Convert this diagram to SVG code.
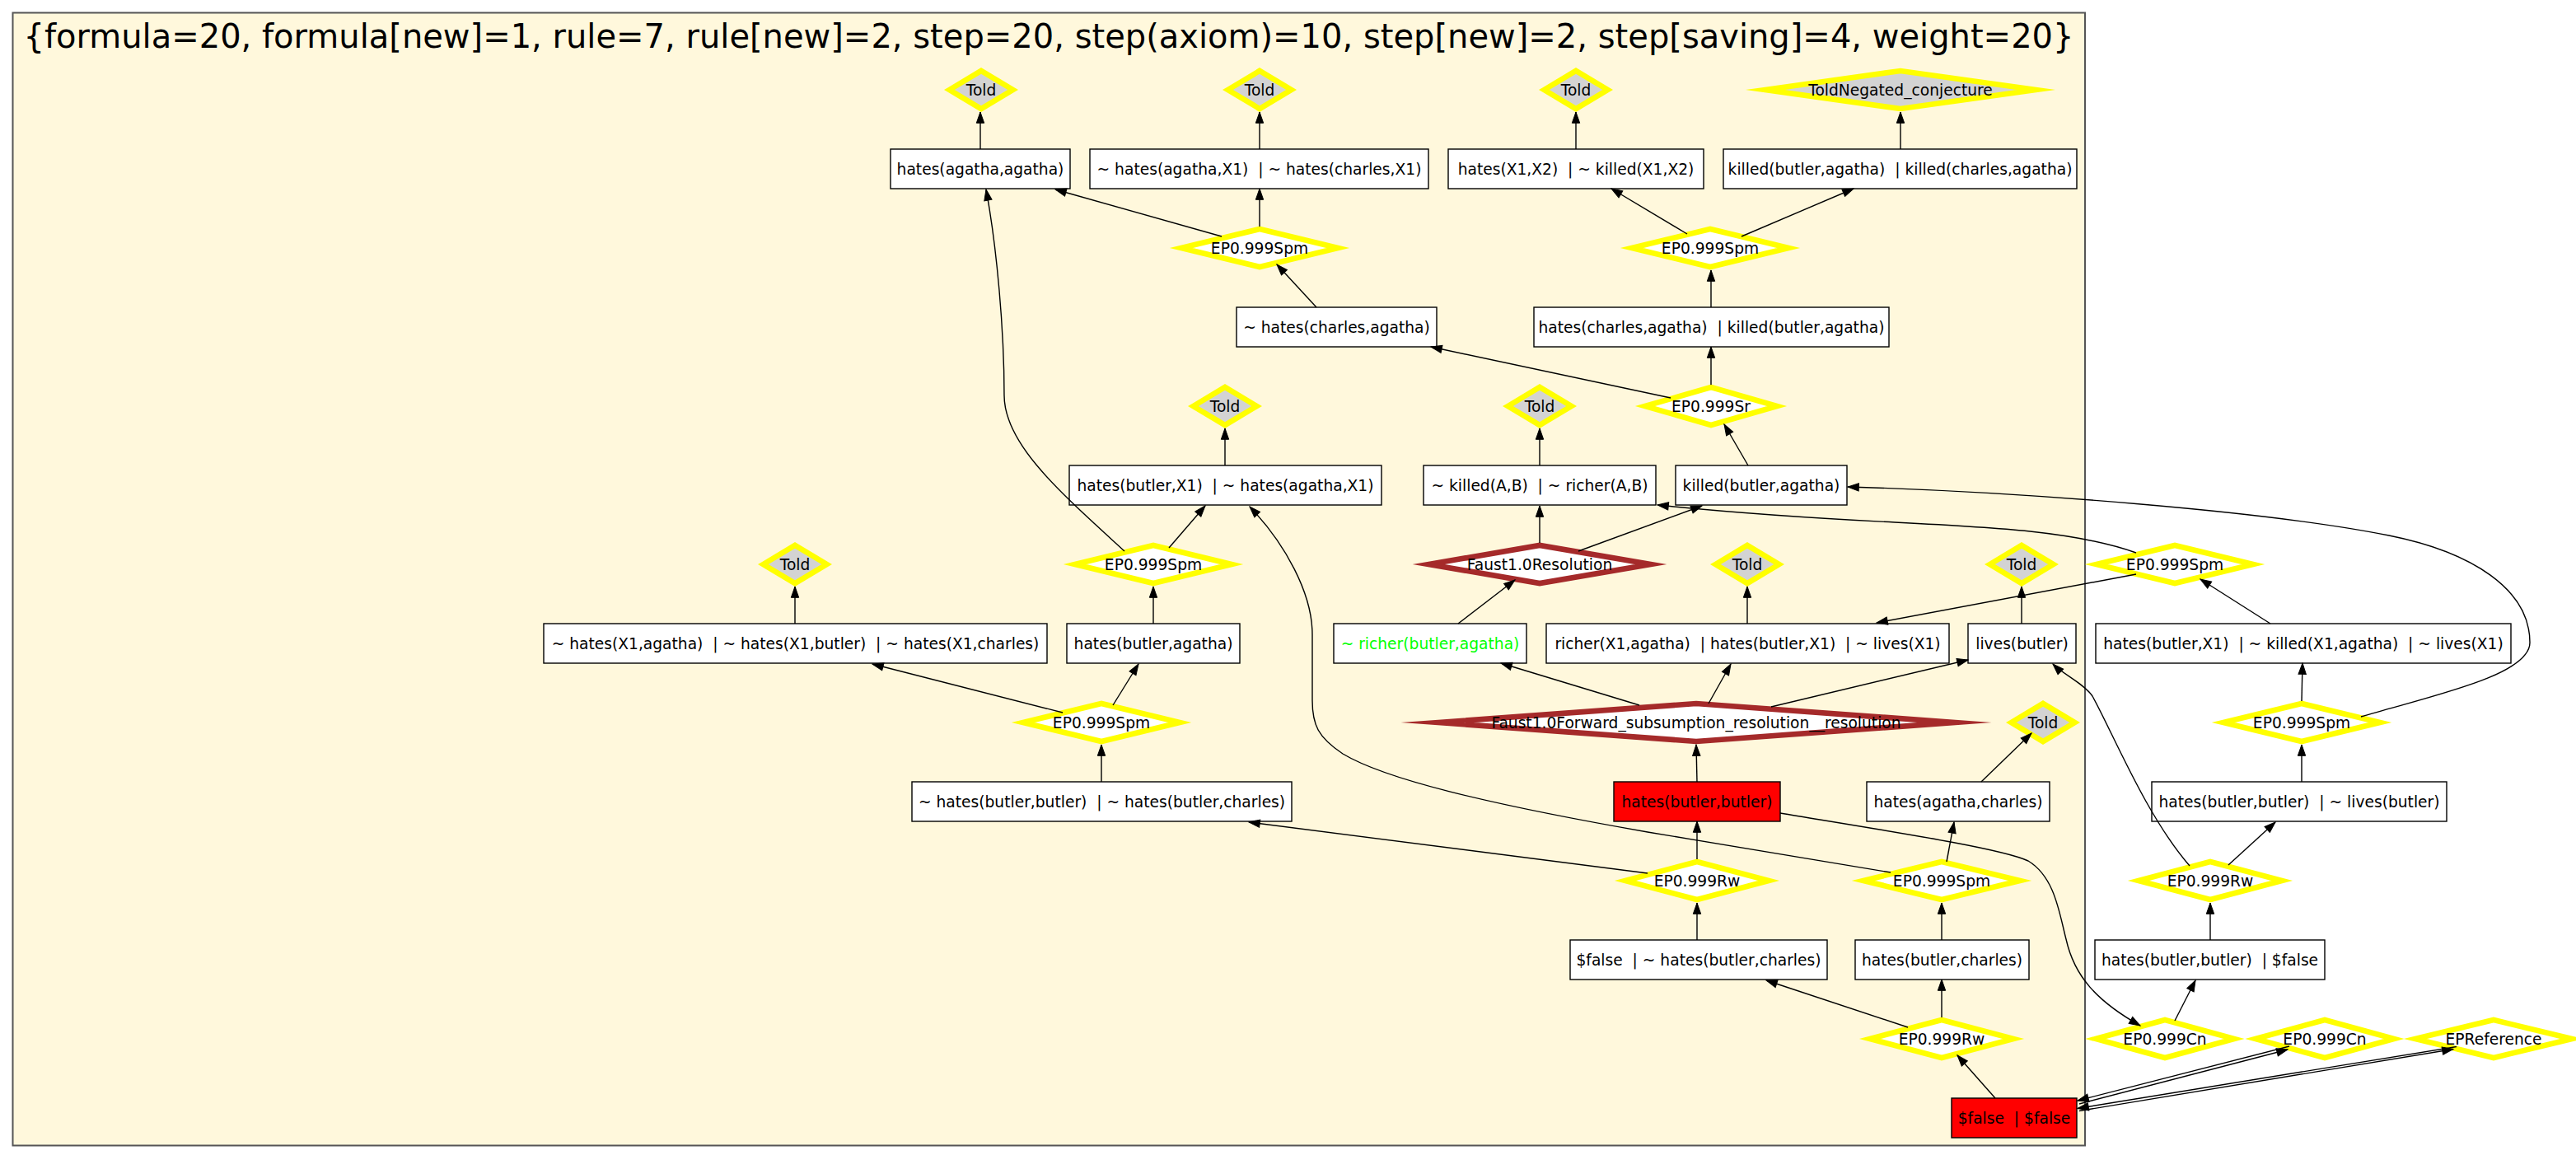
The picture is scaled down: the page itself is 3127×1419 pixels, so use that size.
<svg xmlns="http://www.w3.org/2000/svg" width="3127" height="1419" viewBox="0 0 3127 1419">
<style>
.bg{fill:#fff}
.cl{fill:#fff8dc;stroke:#555;stroke-width:2}
.box{fill:#fff;stroke:#000;stroke-width:1.4}
.red{fill:#f00;stroke:#000;stroke-width:1.4}
.ep{fill:#fff;stroke:#ff0;stroke-width:6.67;stroke-miterlimit:20}
.told{fill:#d3d3d3;stroke:#ff0;stroke-width:6.67;stroke-miterlimit:20}
.fa{fill:#fff;stroke:#a52a2a;stroke-width:6.67;stroke-miterlimit:20}
text{font-family:"DejaVu Sans",sans-serif;font-size:18.67px;text-anchor:middle;fill:#000;white-space:pre}
.title{font-size:40px}
.green{fill:#0f0}
.e{fill:none;stroke:#000;stroke-width:1.4;marker-end:url(#ah)}
</style>
<defs>
<marker id="ah" markerUnits="userSpaceOnUse" markerWidth="16" markerHeight="12" refX="13.3" refY="4.67" orient="auto" overflow="visible"><path d="M0,0 L13.3,4.67 L0,9.33 Z" fill="#000" stroke="#000" stroke-width="1"/></marker>
</defs>
<rect class="bg" x="0" y="0" width="3127" height="1419"/>
<g id="cluster">
<rect class="cl" x="15.5" y="15.5" width="2515.5" height="1375"/>
<text class="title" x="1273" y="58">{formula=20, formula[new]=1, rule=7, rule[new]=2, step=20, step(axiom)=10, step[new]=2, step[saving]=4, weight=20}</text>
</g>
<g id="nodes">
<g id="told_a"><polygon class="told" points="1152.5,109 1191,86 1229.5,109 1191,132"/><text x="1191" y="115.5">Told</text></g>
<g id="told_b"><polygon class="told" points="1490.5,109 1529,86 1567.5,109 1529,132"/><text x="1529" y="115.5">Told</text></g>
<g id="told_c"><polygon class="told" points="1874.5,109 1913,86 1951.5,109 1913,132"/><text x="1913" y="115.5">Told</text></g>
<g id="told_neg"><polygon class="told" points="2143,109 2307,86 2471,109 2307,132"/><text x="2307" y="115.5">ToldNegated_conjecture</text></g>
<g id="b_aa"><rect class="box" x="1081" y="181" width="218" height="48"/><text x="1190" y="211.5">hates(agatha,agatha)</text></g>
<g id="b_ax"><rect class="box" x="1323" y="181" width="411" height="48"/><text x="1528.5" y="211.5">~ hates(agatha,X1)  | ~ hates(charles,X1)</text></g>
<g id="b_x12"><rect class="box" x="1758" y="181" width="310" height="48"/><text x="1913" y="211.5">hates(X1,X2)  | ~ killed(X1,X2)</text></g>
<g id="b_kk"><rect class="box" x="2092" y="181" width="429" height="48"/><text x="2306.5" y="211.5">killed(butler,agatha)  | killed(charles,agatha)</text></g>
<g id="ep_s1"><polygon class="ep" points="1434,301 1529,278 1624,301 1529,324"/><text x="1529" y="307.5">EP0.999Spm</text></g>
<g id="ep_s2"><polygon class="ep" points="1981,301 2076,278 2171,301 2076,324"/><text x="2076" y="307.5">EP0.999Spm</text></g>
<g id="b_nca"><rect class="box" x="1501" y="373" width="243" height="48"/><text x="1622.5" y="403.5">~ hates(charles,agatha)</text></g>
<g id="b_hk"><rect class="box" x="1862" y="373" width="431" height="48"/><text x="2077.5" y="403.5">hates(charles,agatha)  | killed(butler,agatha)</text></g>
<g id="told_d"><polygon class="told" points="1448.5,493 1487,470 1525.5,493 1487,516"/><text x="1487" y="499.5">Told</text></g>
<g id="told_e"><polygon class="told" points="1830.5,493 1869,470 1907.5,493 1869,516"/><text x="1869" y="499.5">Told</text></g>
<g id="ep_sr"><polygon class="ep" points="1997,493 2077,470 2157,493 2077,516"/><text x="2077" y="499.5">EP0.999Sr</text></g>
<g id="b_bx"><rect class="box" x="1298" y="565" width="379" height="48"/><text x="1487.5" y="595.5">hates(butler,X1)  | ~ hates(agatha,X1)</text></g>
<g id="b_kr"><rect class="box" x="1728" y="565" width="282" height="48"/><text x="1869" y="595.5">~ killed(A,B)  | ~ richer(A,B)</text></g>
<g id="b_kba"><rect class="box" x="2034" y="565" width="208" height="48"/><text x="2138" y="595.5">killed(butler,agatha)</text></g>
<g id="told_f"><polygon class="told" points="926.5,685 965,662 1003.5,685 965,708"/><text x="965" y="691.5">Told</text></g>
<g id="ep_s3"><polygon class="ep" points="1305,685 1400,662 1495,685 1400,708"/><text x="1400" y="691.5">EP0.999Spm</text></g>
<g id="f_res"><polygon class="fa" points="1734.5,685 1869,662 2003.5,685 1869,708"/><text x="1869" y="691.5">Faust1.0Resolution</text></g>
<g id="told_g"><polygon class="told" points="2082.5,685 2121,662 2159.5,685 2121,708"/><text x="2121" y="691.5">Told</text></g>
<g id="told_h"><polygon class="told" points="2415.5,685 2454,662 2492.5,685 2454,708"/><text x="2454" y="691.5">Told</text></g>
<g id="ep_s4"><polygon class="ep" points="2545,685 2640,662 2735,685 2640,708"/><text x="2640" y="691.5">EP0.999Spm</text></g>
<g id="b_x1"><rect class="box" x="660" y="757" width="611" height="48"/><text x="965.5" y="787.5">~ hates(X1,agatha)  | ~ hates(X1,butler)  | ~ hates(X1,charles)</text></g>
<g id="b_hba"><rect class="box" x="1295" y="757" width="210" height="48"/><text x="1400" y="787.5">hates(butler,agatha)</text></g>
<g id="b_nrb"><rect class="box" x="1619" y="757" width="234" height="48"/><text class="green" x="1736" y="787.5">~ richer(butler,agatha)</text></g>
<g id="b_rhl"><rect class="box" x="1877" y="757" width="489" height="48"/><text x="2121.5" y="787.5">richer(X1,agatha)  | hates(butler,X1)  | ~ lives(X1)</text></g>
<g id="b_lb"><rect class="box" x="2389" y="757" width="131" height="48"/><text x="2454.5" y="787.5">lives(butler)</text></g>
<g id="b_hkl"><rect class="box" x="2544" y="757" width="504" height="48"/><text x="2796" y="787.5">hates(butler,X1)  | ~ killed(X1,agatha)  | ~ lives(X1)</text></g>
<g id="ep_s5"><polygon class="ep" points="1242,877 1337,854 1432,877 1337,900"/><text x="1337" y="883.5">EP0.999Spm</text></g>
<g id="f_fwd"><polygon class="fa" points="1746,877 2059,854 2372,877 2059,900"/><text x="2059" y="883.5">Faust1.0Forward_subsumption_resolution__resolution</text></g>
<g id="told_i"><polygon class="told" points="2441.5,877 2480,854 2518.5,877 2480,900"/><text x="2480" y="883.5">Told</text></g>
<g id="ep_s6"><polygon class="ep" points="2699,877 2794,854 2889,877 2794,900"/><text x="2794" y="883.5">EP0.999Spm</text></g>
<g id="b_nbb"><rect class="box" x="1107" y="949" width="461" height="48"/><text x="1337.5" y="979.5">~ hates(butler,butler)  | ~ hates(butler,charles)</text></g>
<g id="b_hbb"><rect class="red" x="1959" y="949" width="202" height="48"/><text x="2060" y="979.5">hates(butler,butler)</text></g>
<g id="b_hac"><rect class="box" x="2266" y="949" width="222" height="48"/><text x="2377" y="979.5">hates(agatha,charles)</text></g>
<g id="b_hbl"><rect class="box" x="2612" y="949" width="358" height="48"/><text x="2791" y="979.5">hates(butler,butler)  | ~ lives(butler)</text></g>
<g id="ep_rw1"><polygon class="ep" points="1973,1069 2060,1046 2147,1069 2060,1092"/><text x="2060" y="1075.5">EP0.999Rw</text></g>
<g id="ep_s7"><polygon class="ep" points="2262,1069 2357,1046 2452,1069 2357,1092"/><text x="2357" y="1075.5">EP0.999Spm</text></g>
<g id="ep_rw2"><polygon class="ep" points="2596,1069 2683,1046 2770,1069 2683,1092"/><text x="2683" y="1075.5">EP0.999Rw</text></g>
<g id="b_fhc"><rect class="box" x="1906" y="1141" width="312" height="48"/><text x="2062" y="1171.5">$false  | ~ hates(butler,charles)</text></g>
<g id="b_hbc"><rect class="box" x="2252" y="1141" width="211" height="48"/><text x="2357.5" y="1171.5">hates(butler,charles)</text></g>
<g id="b_hbf"><rect class="box" x="2543" y="1141" width="279" height="48"/><text x="2682.5" y="1171.5">hates(butler,butler)  | $false</text></g>
<g id="ep_rw3"><polygon class="ep" points="2270,1261 2357,1238 2444,1261 2357,1284"/><text x="2357" y="1267.5">EP0.999Rw</text></g>
<g id="ep_cn1"><polygon class="ep" points="2544,1261 2628,1238 2712,1261 2628,1284"/><text x="2628" y="1267.5">EP0.999Cn</text></g>
<g id="ep_cn2"><polygon class="ep" points="2738,1261 2822,1238 2906,1261 2822,1284"/><text x="2822" y="1267.5">EP0.999Cn</text></g>
<g id="ep_ref"><polygon class="ep" points="2932,1261 3027,1238 3122,1261 3027,1284"/><text x="3027" y="1267.5">EPReference</text></g>
<g id="b_ff"><rect class="red" x="2369" y="1333" width="152" height="48"/><text x="2445" y="1363.5">$false  | $false</text></g>
</g>
<g id="connectors">
<path class="e" d="M1190,181 L1190,136"/>
<path class="e" d="M1529,181 L1529,136"/>
<path class="e" d="M1913,181 L1913,136"/>
<path class="e" d="M2307,181 L2307,136"/>
<path class="e" d="M1483,287 L1281,230"/>
<path class="e" d="M1529,275 L1529,229"/>
<path class="e" d="M2048,284 L1956,229"/>
<path class="e" d="M2114,287 L2250,229"/>
<path class="e" d="M1598,373 L1550,321"/>
<path class="e" d="M2077,373 L2077,328"/>
<path class="e" d="M2028,483 L1737,421"/>
<path class="e" d="M2077,467 L2077,421"/>
<path class="e" d="M2122,565 L2093,515"/>
<path class="e" d="M1487,565 L1487,520"/>
<path class="e" d="M1869,565 L1869,520"/>
<path class="e" d="M1365,669 C1290,600 1219,540 1219,480 C1219,400 1210,300 1197,230"/>
<path class="e" d="M1419,665 L1463,614"/>
<path class="e" d="M1400,757 L1400,712"/>
<path class="e" d="M965,757 L965,712"/>
<path class="e" d="M1290,865 L1059,806"/>
<path class="e" d="M1351,856 L1382,806"/>
<path class="e" d="M1337,949 L1337,904"/>
<path class="e" d="M1869,659 L1869,614"/>
<path class="e" d="M1916,669 L2066,614"/>
<path class="e" d="M1770,757 L1839,704"/>
<path class="e" d="M2593,671 C2520,645 2420,640 2300,634 C2180,628 2080,620 2012,613"/>
<path class="e" d="M2593,697 L2278,756"/>
<path class="e" d="M2756,757 L2671,703"/>
<path class="e" d="M2866,870 C2950,845 3071,820 3071,780 C3071,715 3000,670 2900,650 C2750,620 2450,597 2243,591"/>
<path class="e" d="M2454,757 L2454,712"/>
<path class="e" d="M2121,757 L2121,712"/>
<path class="e" d="M2794,851 L2795,805"/>
<path class="e" d="M1990,856 L1822,805"/>
<path class="e" d="M2074,854 L2101,806"/>
<path class="e" d="M2150,858 L2389,801"/>
<path class="e" d="M2060,949 L2059,904"/>
<path class="e" d="M2405,949 L2466,890"/>
<path class="e" d="M2658,1051 C2605,990 2565,890 2540,845 C2530,830 2505,819 2492,806"/>
<path class="e" d="M2794,949 L2794,904"/>
<path class="e" d="M2705,1050 L2762,998"/>
<path class="e" d="M2683,1141 L2683,1096"/>
<path class="e" d="M2060,1043 L2060,997"/>
<path class="e" d="M2000,1060 L1516,998"/>
<path class="e" d="M2060,1141 L2060,1096"/>
<path class="e" d="M2363,1046 L2372,998"/>
<path class="e" d="M2357,1141 L2357,1096"/>
<path class="e" d="M2295,1059 L2000,1010 C1800,975 1680,945 1630,915 C1600,895 1593,880 1593,850 L1593,770 C1593,720 1560,660 1517,615"/>
<path class="e" d="M2316,1247 L2144,1190"/>
<path class="e" d="M2357,1235 L2357,1189"/>
<path class="e" d="M2422,1333 L2376,1281"/>
<path class="e" d="M2161,987 C2300,1010 2430,1030 2462,1045 C2495,1065 2500,1110 2508,1140 C2518,1185 2545,1215 2598,1245"/>
<path class="e" d="M2640,1239 L2665,1190"/>
<path class="e" d="M2524,1340 L2777,1274"/>
<path class="e" d="M2779,1270 L2522,1336"/>
<path class="e" d="M2524,1348.5 L2978,1273.5"/>
<path class="e" d="M2982,1270.5 L2522,1345.5"/>
</g>
</svg>
